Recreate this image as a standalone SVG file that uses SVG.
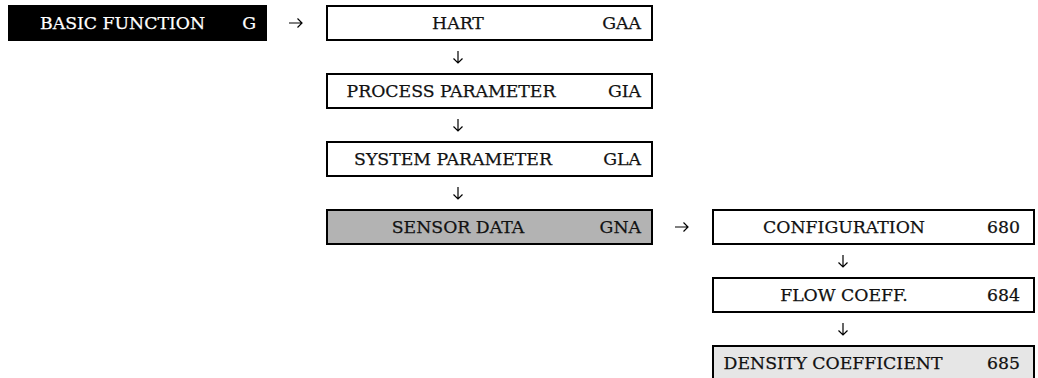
<svg xmlns="http://www.w3.org/2000/svg" width="1038" height="378" viewBox="0 0 1038 378">
<style>
.box{fill:#fff;stroke:#000;stroke-width:2}
.sel{fill:#b3b3b3;stroke:#000;stroke-width:2}
.lite{fill:#e6e6e6;stroke:#000;stroke-width:2}
text{font-family:"DejaVu Serif","Liberation Serif",serif;font-size:17.3px;fill:#111;stroke:#111;stroke-width:0.25}
.c{text-anchor:middle}
.e{text-anchor:end}
.w{fill:#fff;stroke:#fff}
.arr{fill:none;stroke:#000;stroke-width:1.2}
</style>
<rect x="0" y="0" width="1038" height="378" fill="#fff"/>
<g id="basic-function">
<rect x="8" y="5" width="259" height="36" fill="#000"/>
<text class="w" x="40" y="29">BASIC FUNCTION</text>
<text class="w e" x="256" y="29">G</text>
</g>
<g id="hart">
<rect class="box" x="327" y="6" width="325" height="34"/>
<text class="c" x="458" y="29">HART</text>
<text class="e" x="641" y="29">GAA</text>
</g>
<g id="process-parameter">
<rect class="box" x="327" y="74" width="325" height="34"/>
<text class="c" x="451" y="97">PROCESS PARAMETER</text>
<text class="e" x="641" y="97">GIA</text>
</g>
<g id="system-parameter">
<rect class="box" x="327" y="142" width="325" height="34"/>
<text class="c" x="453" y="165">SYSTEM PARAMETER</text>
<text class="e" x="641" y="165">GLA</text>
</g>
<g id="sensor-data">
<rect class="sel" x="327" y="210" width="325" height="34"/>
<text class="c" x="458" y="233">SENSOR DATA</text>
<text class="e" x="641" y="233">GNA</text>
</g>
<g id="configuration">
<rect class="box" x="713" y="210" width="321" height="34"/>
<text class="c" x="844" y="233">CONFIGURATION</text>
<text class="e" x="1020" y="233">680</text>
</g>
<g id="flow-coeff">
<rect class="box" x="713" y="278" width="321" height="34"/>
<text class="c" x="844" y="301">FLOW COEFF.</text>
<text class="e" x="1020" y="301">684</text>
</g>
<g id="density-coefficient">
<rect class="lite" x="713" y="346" width="321" height="40"/>
<text class="c" x="833" y="369">DENSITY COEFFICIENT</text>
<text class="e" x="1020" y="369">685</text>
</g>
<g id="connectors">
<path class="arr" d="M289 23H302M297.5 18.5L302 23L297.5 27.5"/>
<path class="arr" d="M458 51V63M453.5 58.5L458 63L462.5 58.5"/>
<path class="arr" d="M458 119V131M453.5 126.5L458 131L462.5 126.5"/>
<path class="arr" d="M458 187V199M453.5 194.5L458 199L462.5 194.5"/>
<path class="arr" d="M675 227H688M683.5 222.5L688 227L683.5 231.5"/>
<path class="arr" d="M843 255V267M838.5 262.5L843 267L847.5 262.5"/>
<path class="arr" d="M843 323V335M838.5 330.5L843 335L847.5 330.5"/>
</g>
</svg>
